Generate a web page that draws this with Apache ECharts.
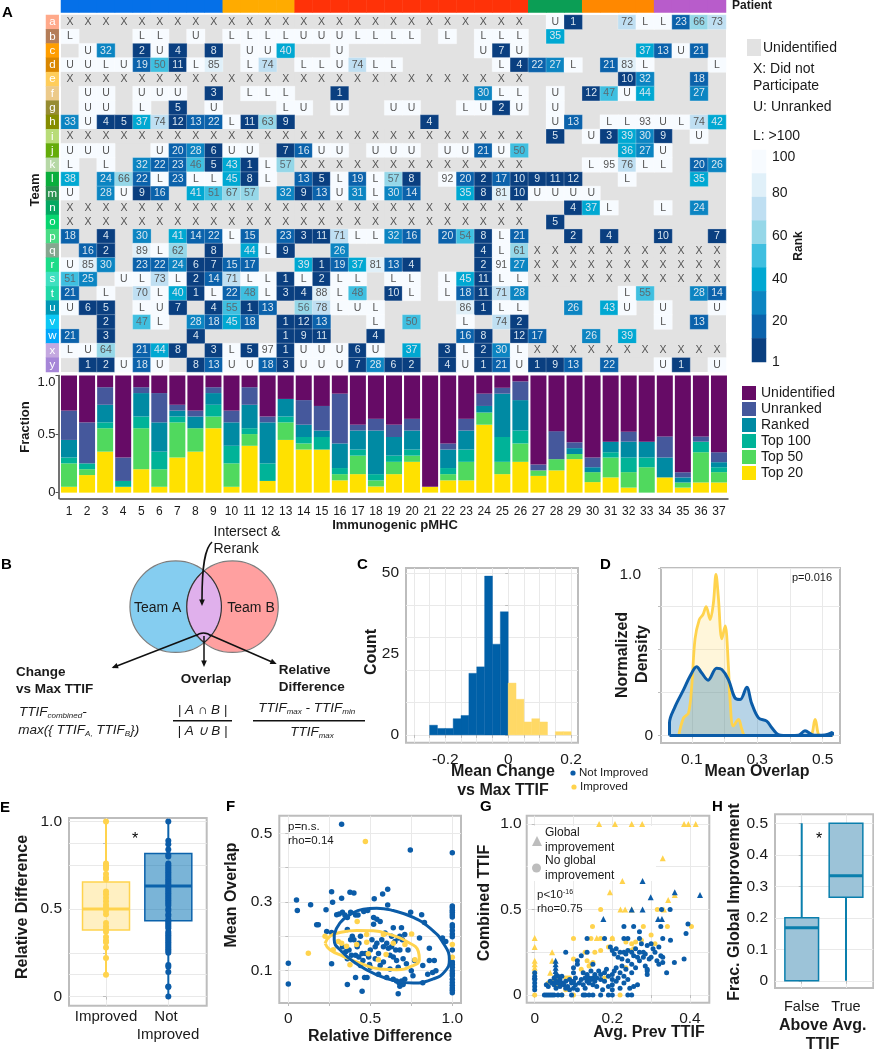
<!DOCTYPE html>
<html><head><meta charset="utf-8">
<style>html,body{margin:0;padding:0;background:#fff}#c{width:874px;height:1050px}</style>
<script src="https://cdn.jsdelivr.net/npm/echarts@6/dist/echarts.min.js"></script>
</head><body><div id="c"></div>
<script>
const FONT='"Liberation Sans",Arial,sans-serif';
const BLUE='#0b5ca8', YEL='#ffd34d';
/* ---------- Panel A data ---------- */
const pmhc=[];for(let i=1;i<=37;i++)pmhc.push(String(i));
const teamLetters='abcdefghijklmnopqrstuvwxy'.split('');
const teamColors=['#ffa98a','#b47d58','#ff9e00','#d98600','#ffcd5a','#ecca8a','#968c32','#858d00','#b8dc78','#64ac0a','#b6d8a6','#0aae3c','#2a9150','#03a862','#08d570','#48dc84','#85a78f','#1bdc88','#3fe0c0','#20d8a8','#0097b5','#0dc8f5','#02a7fb','#c4a8e0','#a686d8'];
const patientGroups=[9,4,13,3,4,4];
const patientColors=['#0570e8','#ffab00','#ff3208','#0b9e55','#ff8800','#b85ccb'];
const heatRows=[
"X X X X X X X X X X X X X X X X X X X X X X X X X X . U 1 . . 72 L L 23 66 73",
"L . . . L L . U . L L L L U U U L L L L . L . L L L . 35 . . . . . . . . .",
". U 32 . 2 U 4 . 8 . U U 40 . . U . . . . . . . U 7 U . . . . . . 37 13 U 21 .",
"U U L U 19 50 11 L 85 . L 74 . L L U 74 L L . . . . . L 4 22 27 L . 21 83 L . . . L",
"X X X X X X X X X X X X X X X X X X X X X X X X X X . . . . . 10 32 . . 18 .",
". U U . U U U . 3 . L L L . . 1 . . . . . . . 30 L L . U . 12 47 U 44 . . 27 .",
". U U . L . 5 . U . . . L U . U . . U U . . L U 2 U . U . . . . . . . . .",
"33 U 4 5 37 74 12 13 22 L 11 63 9 . . . . . . . 4 . . . . . . U 13 . L L 93 U L 74 42",
"X X X X X X X X X X X X X X X X X X X X X X X X X X . 5 . U 3 39 30 9 . U .",
"U U U . . U 20 28 6 U U . 7 16 U U . U U U . U U 21 U 50 . . . . . 36 27 U . . .",
"L . L . 32 22 23 46 5 43 1 L 57 X X X X X X X X X X X X X . . . L 95 76 L L . 20 26",
"38 . 24 66 22 L 23 L L 45 8 L . 13 5 L 19 L 57 8 . 92 20 2 17 10 9 11 12 . . L . . . 35 .",
"U . 28 U 9 16 . 41 51 67 57 . 32 9 13 U 31 L 30 14 . . 35 8 81 10 U U U U . . . . . . .",
"X X X X X X X X X X X X X X X X X X X X X X X X X X . . 4 37 L . . L . 24 .",
"X X X X X X X X X X X X X X X X X X X X X X X X X X . 5 . . . . . . . . .",
"18 . 4 . 30 . 41 14 22 L 15 . 23 3 11 71 L L 32 16 . 20 54 8 L 21 . . 2 . 4 . . 10 . . 7",
". 16 2 . 89 L 62 . 8 . 44 L 9 . . 26 . . . . . . . 4 L 61 X X X X X X X X X X X",
"U 85 30 . 23 22 24 6 7 15 17 . . 39 1 19 37 81 13 4 . . . 2 91 27 X X X X X X X X X X X",
"51 25 . U L 73 L 2 14 71 L L 1 L 2 L L . L L . L 45 11 L L X X X X X X X X X X X",
"21 . L . 70 L 40 1 L 22 48 L 3 4 88 L 48 . 10 L . L 18 11 71 28 . . . . . L 55 . . 28 14",
"U 6 5 . L U 7 . 4 55 1 13 . 56 78 L U L . . . . 86 1 L L . . 26 . 43 U . U . . U",
". . 2 . 47 L . 28 18 45 18 . 1 12 13 . . L . 50 . . L . 74 2 . . . . . . . L . 13 .",
"21 . 3 . . . . 4 . . . . 1 9 11 . . 4 . . . . 16 8 . 12 17 . . 26 . 39 . . . . .",
"L U 64 . 21 44 8 . 3 L 5 97 1 U U U 6 U . 37 . 3 L 2 30 L X X X X X X X X X X X",
". 1 2 U 18 U . 8 13 U U 18 3 U U U 7 28 6 2 . 4 U 1 21 U 1 9 13 . 22 . . U 1 . U"
];
const rankEdges=[12,23,33,45,55,67,78,89,100];
const rankColors=['#0a3f80','#0b62ab','#0c85c2','#00a8d2','#3fbfe0','#95d7e8','#bfdff2','#e0f0f9','#f7fbff'];
/* cumulative fraction boundaries for the stacked bars */
const cumTop20=[.05,.15,.35,.05,.2,.05,.3,.35,.55,.05,.4,.1,.45,.368,.368,.105,.158,.053,.158,.263,.05,.105,.105,.58,.158,.263,.143,.19,.286,.09,.13,.043,0,.13,.043,.087,.087];
const cumTop50=[.25,.2,.55,.05,.55,.2,.6,.55,.65,.25,.5,.1,.6,.42,.368,.158,.316,.105,.263,.316,.05,.158,.263,.684,.263,.42,.19,.286,.33,.175,.3,.175,.217,.13,.087,.345,.175];
const cumTop100=[.3,.25,.6,.1,.65,.35,.65,.55,.75,.4,.55,.25,.65,.475,.475,.21,.368,.158,.316,.368,.05,.21,.368,.684,.475,.53,.19,.286,.33,.175,.345,.3,.3,.13,.087,.435,.217];
const cumRanked=[.45,.25,.75,.1,.85,.6,.7,.65,.85,.6,.75,.6,.8,.58,.53,.42,.53,.53,.475,.53,.05,.368,.53,.74,.845,.79,.19,.286,.38,.217,.435,.435,.435,.3,.13,.435,.26];
const cumUnranked=[.7,.6,.9,.3,.9,.85,.75,.7,.9,.7,.9,.65,.8,.79,.74,.845,.58,.63,.58,.63,.05,.42,.63,.845,.895,.95,.24,.525,.43,.3,.435,.52,.435,.48,.174,.48,.345];
const stackNames=['Unidentified','Unranked','Ranked','Top 100','Top 50','Top 20'];
const stackColors=['#660b66','#45589c','#008aa3','#00b398','#50d95e','#ffe100'];
/* ---------- Panel C ---------- */
const histStartsBlue=[-.25,-.225,-.2,-.175,-.15,-.125,-.1,-.075,-.05,-.025];
const histCountsBlue=[3,2,2,5,6,19,21,49,28,38];
const histStartsYel=[0,.025,.05,.075,.1,.125,.15,.175];
const histCountsYel=[16,11,4,5,4,0,1,1];
/* ---------- Panel D ---------- */
const densYellow=[[.06,0],[.075,.11],[.09,.14],[.1,.31],[.11,.6],[.123,.72],[.134,.75],[.144,.8],[.156,.72],[.166,.82],[.174,1],[.181,.865],[.192,.6],[.202,.68],[.212,.43],[.217,.22],[.227,.06],[.243,.1],[.253,.04],[.263,0],[.3,0],[.4,0],[.461,0],[.477,.1],[.492,0],[.53,0]];
const densBlue=[[.032,0],[.032,.08],[.049,.18],[.075,.285],[.095,.37],[.115,.427],[.13,.39],[.15,.344],[.176,.418],[.192,.41],[.212,.348],[.232,.234],[.248,.224],[.268,.3],[.283,.2],[.304,.11],[.329,.09],[.344,.05],[.365,.006],[.4,0],[.426,.002],[.446,.03],[.467,.006],[.482,.002],[.507,.004],[.53,.02],[.53,0]];
const densBase=[[.032,0],[.53,0]];
/* ---------- Panel E ---------- */
const boxE=[[0,.12,.38,.5,.655,1],[1,0,.433,.632,.817,1]];
const improvedRD=[1,.76,.75,.74,.73,.7,.68,.67,.6,.585,.565,.545,.525,.51,.49,.47,.42,.4,.385,.37,.34,.32,.31,.28,.22,.125];
const notImprovedRD=[1,.89,.87,.84,.81,.8,.76,.75,.74,.73,.72,.71,.7,.69,.68,.67,.66,.65,.64,.63,.62,.61,.6,.59,.58,.57,.56,.55,.54,.53,.52,.5,.49,.47,.46,.44,.43,.42,.41,.4,.39,.37,.36,.35,.34,.33,.32,.31,.3,.29,.28,.27,.26,.25,.18,.17,.14,.057,.055,0];
/* ---------- Panel F ---------- */
const ovBlue=[[.325,.526],[.744,.451],[1,.443],[.264,.33],[.325,.311],[.376,.328],[.4,.326],[.524,.309],[.575,.323],[.606,.337],[.05,.306],[.055,.275],[.136,.292],[.23,.277],[.27,.299],[.606,.291],[.484,.275],[.746,.27],[.813,.263],[0,.122],[0,.061],[.173,.234],[.183,.234],[.234,.214],[.264,.211],[.264,.12],
[.295,.263],[.31,.265],[.33,.27],[.345,.262],[.36,.255],[.38,.27],[.41,.262],[.425,.262],[.46,.272],[.52,.255],[.54,.25],[.56,.243],[.36,.22],[.39,.2],[.4,.19],[.42,.17],[.43,.18],[.44,.2],[.36,.135],[.37,.16],[.385,.145],[.41,.145],[.43,.14],[.45,.15],[.455,.13],[.47,.15],[.49,.14],[.495,.118],[.5,.16],[.51,.19],[.52,.235],[.53,.17],[.53,.135],[.54,.18],[.55,.15],[.56,.115],[.57,.19],[.58,.17],[.59,.21],[.6,.18],[.61,.165],[.62,.145],[.63,.2],[.63,.17],[.64,.225],[.65,.185],[.655,.16],[.66,.13],[.67,.195],[.67,.11],[.68,.16],[.69,.225],[.695,.19],[.7,.135],[.71,.205],[.72,.12],[.73,.16],[.75,.1],[.77,.13],[.8,.195],[.83,.24],[.86,.165],[.82,.115],[.85,.09],[.86,.13],[.88,.095],[.89,.13],[.9,.1],[.94,.195],[.96,.185],
[.41,.08],[.465,.08],[.48,.08],[.45,.04],[.36,.06],[.55,.09],[.6,.08],[.64,.075],[.66,.07],[.675,.065],[.69,.07],[.68,.055],[.67,.033],[.7,.06],[.71,.075],[.76,.085],[.82,.065],[.62,.105],[.58,.125],[.5,.11],[.44,.115],[.35,.155],[.33,.17],[.38,.19],[.64,.14],[.68,.2],
[1,.288],[1,.283],[1,.276],[1,.27],[1,.263],[1,.256],[1,.234],[1,.227],[1,.217],[1,.207],[1,.199],[1,.16],[1,.125],[1,.118],[1,.11],[1,.1],[1,.092],[1,.085],[1,.075],[1,.066],[1,.058],[1,.05],[1,.043],[1,.036]];
const ovYellow=[[.47,.476],[.122,.151],[.224,.2],[.42,.243],[.752,.207],[.478,.183],[.596,.147],[1,.176],[1,.139],[.325,.18],[.355,.171],[.417,.176],[.478,.205],[.488,.149],[.58,.205],[.64,.18],[.711,.176],[.772,.132],[.376,.117],[.549,.132],[.274,.161],[.305,.185]];
const ellBlue=[[.28,.205],[.315,.239],[.376,.263],[.457,.279],[.539,.282],[.64,.275],[.762,.255],[.864,.224],[.945,.18],[.982,.132],[.955,.098],[.884,.076],[.762,.064],[.661,.069],[.539,.088],[.417,.12],[.325,.156],[.28,.19],[.28,.205]];
const ellYellow=[[.224,.18],[.254,.2],[.315,.211],[.417,.217],[.518,.216],[.62,.205],[.722,.185],[.793,.156],[.799,.132],[.752,.113],[.661,.103],[.559,.105],[.437,.122],[.335,.142],[.254,.161],[.224,.18]];
/* ---------- Panel G ---------- */
const gBlueCirc=[[0,.03],[0,.05],[0,.07],[0,.09],[0,.11],[0,.13],[.025,0],[.03,0],[.035,0],[.04,0],[.045,0],[.05,0],[.06,0],[.07,0],[.095,0],[.125,0],[.13,0],[.14,0],[.15,0],[.17,0],[.19,0],[.2,0],[.24,0],[.25,0],
[.03,.06],[.035,.05],[.04,.08],[.045,.07],[.05,.1],[.05,.06],[.055,.04],[.055,.08],[.06,.07],[.06,.11],[.065,.05],[.065,.09],[.07,.07],[.07,.11],[.075,.06],[.08,.04],[.08,.08],[.085,.05],[.09,.03],[.09,.09],[.095,.07],[.1,.04],[.1,.08],[.1,.13],[.105,.1],[.105,.06],[.11,.03],[.115,.07],[.12,.09],[.125,.13],[.125,.06],[.13,.1],[.13,.04],[.135,.08],[.135,.12],[.14,.07],[.14,.1],[.145,.09],[.145,.14],[.15,.06],[.15,.1],[.155,.08],[.155,.12],[.16,.1],[.16,.05],[.165,.14],[.17,.09],[.17,.12],[.175,.03],[.18,.13],[.18,.08],[.185,.15],[.19,.11],[.19,.05],[.2,.03],[.2,.06],[.2,.09],[.2,.12],[.205,.14],[.21,.08],[.21,.16],[.215,.1],[.22,.04],[.22,.13],[.225,.17],[.23,.07],[.23,.11],[.235,.15],[.24,.09],[.24,.2],[.245,.04],[.25,.13],[.25,.18],[.255,.05],[.26,.16],[.265,.06],[.27,.2],[.28,.22],[.285,.17],
[.195,.28],[.2,.26],[.205,.24],[.21,.27],[.215,.22],[.22,.25],[.225,.21],[.23,.25],[.235,.24],[.24,.26],[.25,.25],[.255,.23],[.26,.27],[.265,.22],[.27,.25],[.275,.3],[.28,.25],[.285,.24],[.29,.29],[.295,.21],[.3,.22],[.305,.27],[.31,.25],[.315,.2],[.32,.28],[.325,.23],[.33,.22],[.35,.32],[.29,.15],[.29,.12],[.29,.14],[.32,.18],[.33,.19],[.34,.13],[.36,.19],[.385,.21],
[.135,.33],[.18,.33],[.23,.33],[.24,.33],[.27,.33],[.27,.37],[.23,.4],[.255,.4],[.39,.36],[.395,.415],[.33,.33],[.3,.3],[.135,.25],[.08,.25],[.11,.2],[.12,.23],[.15,.18],[.11,.18],[.1,.16],[.327,.5],[.349,.5],[.325,.4]];
const gYelCirc=[[.13,.25],[.155,.25],[.08,.1],[.09,.1],[.085,.1],[.06,.06],[.05,.09],[.1,0],[.07,0],[0,0],[.22,0],[.1,.21],[.12,.15],[.135,.2],[.14,.17],[.145,.18],[.15,.19],[.17,.26],[.18,.1],[.19,.28],[.2,.33],[.235,.31],[.245,.26],[.25,.3],[.255,.27],[.26,.31],[.275,.32],[.3,.35],[.31,.3],[.235,.16],[.08,.03],[.17,.33],[.1,.33],[.145,.33],[.17,.5],[.316,.5],[.149,.4],[.28,.4],[.342,.4],[.404,.4],[.06,.09],[.035,.07]];
const gYelTri=[[.166,1],[.207,1],[.25,1],[.277,1],[.385,1],[.396,1],[.415,1],[.33,.8],[.226,.667],[.194,.6],[.361,.585],[.344,.556],[.221,.5],[.233,.5],[.25,.5],[.333,.5],[.16,.333],[.2,.333],[0,.333],[0,.28],[0,.2],[0,.18],[0,.16],[0,.14],[.045,.25],[.045,.2],[.04,.13]];
const gBlueTri=[[.278,.667],[.361,.6],[.426,.585],[.299,.571],[.25,.5],[.278,.5],[.177,.444],[.318,.444],[.328,.444],[.054,.09],[.054,.12],[.054,.14],[.054,.16],[.054,.18],[.054,.2],[0,.11]];
/* ---------- Panel H ---------- */
const boxH=[[0,0,0,.168,.2,.5],[1,0,.265,.333,.5,.5]];

/* ---------- helpers ---------- */
const grids=[],xAxes=[],yAxes=[],series=[],g=[];
function T(x,y,text,o){o=o||{};
  const st={x:0,y:0,text:text,fontFamily:FONT,fontSize:o.size||14,fontWeight:o.bold?'bold':'normal',fontStyle:o.italic?'italic':'normal',fill:o.color||'#1a1a1a',align:o.align||'left',verticalAlign:'middle'};
  if(o.rich)st.rich=o.rich;
  g.push({type:'text',x:x,y:y,rotation:o.rot?Math.PI/2:0,z:100,style:st});}
function L(pts,w){g.push({type:'polyline',z:100,shape:{points:pts},style:{stroke:'#111',lineWidth:w||1.5,fill:null}});}
function head(tip,angle){const s=7,a=.42;g.push({type:'polygon',z:100,shape:{points:[tip,[tip[0]-s*Math.cos(angle-a),tip[1]-s*Math.sin(angle-a)],[tip[0]-s*Math.cos(angle+a),tip[1]-s*Math.sin(angle+a)]]},style:{fill:'#111'}});}
function bez(a,c1,c2,b,w){g.push({type:'bezierCurve',z:100,shape:{x1:a[0],y1:a[1],cpx1:c1[0],cpy1:c1[1],cpx2:c2[0],cpy2:c2[1],x2:b[0],y2:b[1]},style:{fill:null,stroke:'#111',lineWidth:w||1.5}});}
function bareGrid(l,t,r,b,extra){const i=grids.length;grids.push(Object.assign({left:l,top:t,width:r-l,height:b-t,show:false},extra||{}));return i;}
function hiddenCat(i,data,inv){return {type:'category',gridIndex:i,data:data,inverse:!!inv,show:false,axisLine:{show:false},axisTick:{show:false},splitLine:{show:false},axisLabel:{show:false}};}
function valAxis(i,a){return {type:'value',gridIndex:i,min:a.min,max:a.max,axisLine:{show:false},
  axisTick:{show:true,customValues:a.ticks,length:3,lineStyle:{color:'#bdbdbd'}},
  axisLabel:{show:a.labels!==null,customValues:a.labels||undefined,formatter:a.fmt,fontSize:a.size||15.5,color:'#1a1a1a',margin:a.margin||6,fontFamily:FONT,lineHeight:18,hideOverlap:false},
  splitLine:{show:true,lineStyle:{color:'#e9e9e9',width:1}}};}
function panel(box,xa,ya){const i=grids.length;grids.push({left:box[0],top:box[1],width:box[2]-box[0],height:box[3]-box[1],show:true,backgroundColor:'#fff',borderColor:'#bdbdbd',borderWidth:2});xAxes.push(valAxis(i,xa));yAxes.push(valAxis(i,ya));return i;}
const f1=v=>v===0?'0':v.toFixed(1);
function boxSeries(i,data,half,colors,fills,lw){
  series.push({type:'custom',xAxisIndex:i,yAxisIndex:i,data:data,silent:true,clip:false,encode:{x:0,y:[1,2,3,4,5]},
   renderItem:function(p,api){const x=api.value(0),lo=api.value(1),q1=api.value(2),m=api.value(3),q3=api.value(4),hi=api.value(5);
    const c=colors[p.dataIndex],A=api.coord([x-half,q3]),B=api.coord([x+half,q1]),ml=api.coord([x-half,m]),mr=api.coord([x+half,m]),h0=api.coord([x,hi]),h1=api.coord([x,q3]),l0=api.coord([x,lo]),l1=api.coord([x,q1]);
    return {type:'group',children:[
     {type:'rect',shape:{x:A[0],y:A[1],width:B[0]-A[0],height:B[1]-A[1]},style:{fill:fills[p.dataIndex],stroke:c,lineWidth:1.5}},
     {type:'line',shape:{x1:h0[0],y1:h0[1],x2:h1[0],y2:h1[1]},style:{stroke:c,lineWidth:lw}},
     {type:'line',shape:{x1:l0[0],y1:l0[1],x2:l1[0],y2:l1[1]},style:{stroke:c,lineWidth:lw}},
     {type:'line',shape:{x1:ml[0],y1:ml[1],x2:mr[0],y2:mr[1]},style:{stroke:c,lineWidth:3}}]};}});
}
function hist(i,starts,counts,color){series.push({type:'custom',xAxisIndex:i,yAxisIndex:i,silent:true,encode:{x:[0,1],y:2},
  data:starts.map((s,k)=>[s,s+.025,counts[k]]).filter(d=>d[2]>0),
  renderItem:function(p,api){const a=api.coord([api.value(0),api.value(2)]),b=api.coord([api.value(1),0]);
    return {type:'rect',shape:{x:a[0],y:a[1],width:b[0]-a[0],height:b[1]-a[1]},style:{fill:color,stroke:color,lineWidth:.4}};}});}

/* ---------- Panel A: heatmap ---------- */
const hi=bareGrid(61,15,726,372,{show:true,backgroundColor:'#e2e2e2',borderWidth:0});
xAxes.push(hiddenCat(hi,pmhc));yAxes.push(hiddenCat(hi,teamLetters,true));
const heatData=[];
heatRows.forEach((row,r)=>row.split(' ').forEach((tok,c)=>{ if(tok==='.')return;
  let fill='#f7fbff',txt='#555',bw=.6,code=101;
  if(tok==='X'){fill='#e2e2e2';bw=0;code=0;}
  else if(tok!=='U'&&tok!=='L'){const n=+tok;code=n;fill=rankColors[rankEdges.findIndex(e=>n<=e)];txt=n<46?'#d9e6f0':'#5a6a72';if(n>=60)txt='#555';}
  heatData.push({value:[c,r,code],itemStyle:{color:fill,borderColor:bw?'rgba(255,255,255,.45)':fill,borderWidth:bw},label:{show:true,formatter:tok,color:txt,fontSize:10.5,fontFamily:FONT}});
}));
series.push({type:'heatmap',xAxisIndex:hi,yAxisIndex:hi,data:heatData,silent:true,encode:{x:0,y:1}});
/* patient bar */
const pi=bareGrid(61,0,726,12.5);
xAxes.push(hiddenCat(pi,pmhc));yAxes.push(hiddenCat(pi,['Patient']));
const patData=[];let pc=0;patientGroups.forEach((n,k)=>{for(let j=0;j<n;j++){patData.push({value:[pc,0,k],itemStyle:{color:patientColors[k]}});pc++;}});
series.push({type:'heatmap',xAxisIndex:pi,yAxisIndex:pi,data:patData,silent:true,encode:{x:0,y:1}});
/* team strip */
const ti=bareGrid(46,15,58.7,372);
xAxes.push(hiddenCat(ti,['Team']));yAxes.push(hiddenCat(ti,teamLetters,true));
series.push({type:'heatmap',xAxisIndex:ti,yAxisIndex:ti,silent:true,encode:{x:0,y:1},
  data:teamLetters.map((t,k)=>({value:[0,k,k],itemStyle:{color:teamColors[k]},label:{show:true,formatter:t,color:'#fff',fontSize:11.5,fontFamily:FONT}}))});
/* colour bar */
const ci=bareGrid(752,150,766,362);
const rankBins=rankEdges.slice().reverse();
xAxes.push(hiddenCat(ci,['Rank']));yAxes.push(hiddenCat(ci,rankBins.map(String),true));
series.push({type:'heatmap',xAxisIndex:ci,yAxisIndex:ci,silent:true,encode:{x:0,y:1},
  data:rankBins.map((e,k)=>({value:[0,k,e],itemStyle:{color:rankColors[8-k]}}))});
/* stacked bars */
const si=grids.length;grids.push({left:60,top:375.5,width:668,height:123,show:false});
xAxes.push({type:'category',gridIndex:si,data:pmhc,axisLine:{onZero:false,lineStyle:{color:'#444',width:1.5}},axisTick:{alignWithLabel:true,length:3,lineStyle:{color:'#555'}},axisLabel:{interval:0,fontSize:12,color:'#1a1a1a',margin:7,fontFamily:FONT},splitLine:{show:false}});
yAxes.push({type:'value',gridIndex:si,min:-.05,max:1,offset:1.5,axisLine:{show:true,lineStyle:{color:'#444',width:1.5}},axisTick:{show:true,customValues:[0,.5,1],length:3,lineStyle:{color:'#555'}},axisLabel:{customValues:[0,.5,1],formatter:f1,fontSize:13,color:'#1a1a1a',margin:3,fontFamily:FONT,verticalAlignMaxLabel:'top'},splitLine:{show:false}});
const cum=[cumTop20,cumTop50,cumTop100,cumRanked,cumUnranked,cumTop20.map(()=>1)];
for(let s=0;s<6;s++){const name=stackNames[5-s];
  series.push({type:'bar',name:name,stack:'A',xAxisIndex:si,yAxisIndex:si,barWidth:16,silent:true,itemStyle:{color:stackColors[5-s]},
    data:cum[s].map((v,k)=>+(v-(s?cum[s-1][k]:0)).toFixed(3))});}
/* ---------- Panel C ---------- */
const ic=panel([406,568,578,742.7],
 {min:-.325,max:.222,ticks:[-.3,-.25,-.2,-.15,-.1,-.05,0,.05,.1,.15,.2],labels:[-.2,0,.2],fmt:v=>v===0?'0':v.toFixed(1),margin:8},
 {min:-2.4,max:51.5,ticks:[0,10,20,30,40,50],labels:[0,25,50],fmt:v=>String(v),margin:7});
hist(ic,histStartsBlue,histCountsBlue,'#0060a8');hist(ic,histStartsYel,histCountsYel,'#ffd966');
/* ---------- Panel D ---------- */
const id=panel([661,568,840,743],
 {min:.006,max:.553,ticks:[.1,.2,.3,.4,.5],labels:[.1,.3,.5],fmt:v=>v.toFixed(1),margin:8},
 {min:-.046,max:1.04,ticks:[0,.27,.535,.8,1.04],labels:[0,1],fmt:v=>v===1?'{a|1.0}':'0',margin:8});
yAxes[id].axisLabel.rich={a:{fontSize:15.5,color:'#1a1a1a',fontFamily:FONT,padding:[0,12,0,0]}};
function dens(data,line,fill,w){series.push({type:'line',xAxisIndex:id,yAxisIndex:id,data:data,smooth:.35,showSymbol:false,silent:true,lineStyle:{color:line,width:w},areaStyle:{color:fill}});}
dens(densYellow,YEL,'rgba(255,217,102,.35)',2.8);
dens(densBlue,BLUE,'rgba(10,110,175,.42)',3);
series.push({type:'line',xAxisIndex:id,yAxisIndex:id,data:densBase,showSymbol:false,silent:true,lineStyle:{color:BLUE,width:3}});
/* ---------- Panel E ---------- */
const ie=panel([69,818,206.7,1005.7],
 {min:-.594,max:1.616,ticks:[0,1],labels:null,fmt:String,margin:8},
 {min:-.052,max:1.02,ticks:[0,.125,.25,.5,.75,.875,1],labels:[0,.5,1],fmt:f1,margin:7});
boxSeries(ie,boxE,.377,[YEL,'#0b62ab'],['rgba(255,217,102,.4)','rgba(0,112,178,.52)'],2);
series.push({type:'scatter',xAxisIndex:ie,yAxisIndex:ie,symbolSize:6,silent:true,itemStyle:{color:YEL,opacity:1},data:improvedRD.map(v=>[0,v])});
series.push({type:'scatter',xAxisIndex:ie,yAxisIndex:ie,symbolSize:6,silent:true,itemStyle:{color:BLUE,opacity:1},data:notImprovedRD.map(v=>[1,v])});
/* ---------- Panel F ---------- */
const iF=panel([279.3,815.7,461,1003],
 {min:-.055,max:1.053,ticks:[0,.25,.5,.75,1],labels:[0,.5,1],fmt:f1,margin:7},
 {min:.006,max:.551,ticks:[.1,.2,.3,.4,.5],labels:[.1,.3,.5],fmt:f1,margin:7});
series.push({type:'scatter',xAxisIndex:iF,yAxisIndex:iF,symbolSize:5.5,silent:true,itemStyle:{color:BLUE,opacity:1},data:ovBlue});
series.push({type:'scatter',xAxisIndex:iF,yAxisIndex:iF,symbolSize:5.5,silent:true,itemStyle:{color:YEL,opacity:1},data:ovYellow});
series.push({type:'line',xAxisIndex:iF,yAxisIndex:iF,smooth:.5,showSymbol:false,silent:true,data:ellYellow,lineStyle:{color:YEL,width:3}});
series.push({type:'line',xAxisIndex:iF,yAxisIndex:iF,smooth:.5,showSymbol:false,silent:true,data:ellBlue,lineStyle:{color:BLUE,width:3}});
/* ---------- Panel G ---------- */
const iG=panel([526.7,815.7,709.3,1002.7],
 {min:-.0206,max:.45,ticks:[0,.1,.2,.3,.4],labels:[0,.2,.4],fmt:f1,margin:7},
 {min:-.045,max:1.048,ticks:[0,.25,.5,.75,1],labels:[0,.5,1],fmt:f1,margin:5});
g.push({type:'rect',z:1,shape:{x:528,y:826,width:128,height:55},style:{fill:'#fff'}});
series.push({type:'scatter',xAxisIndex:iG,yAxisIndex:iG,symbolSize:5,silent:true,z:3,itemStyle:{color:YEL,opacity:1},data:gYelCirc});
series.push({type:'scatter',xAxisIndex:iG,yAxisIndex:iG,symbol:'triangle',symbolSize:6,silent:true,z:3,itemStyle:{color:YEL,opacity:1},data:gYelTri});
series.push({type:'scatter',xAxisIndex:iG,yAxisIndex:iG,symbolSize:5,silent:true,z:4,itemStyle:{color:BLUE,opacity:1},data:gBlueCirc});
series.push({type:'scatter',xAxisIndex:iG,yAxisIndex:iG,symbol:'triangle',symbolSize:6,silent:true,z:4,itemStyle:{color:BLUE,opacity:1},data:gBlueTri});
/* ---------- Panel H ---------- */
const iH=panel([775,814.3,873.3,988],
 {min:-.603,max:1.616,ticks:[0,1],labels:[0,1],fmt:v=>v===0?'False':'True',size:14.5,margin:10},
 {min:-.023,max:.5285,ticks:[0,.1,.2,.3,.4,.5],labels:[0,.1,.2,.3,.4,.5],fmt:f1,margin:7});
boxSeries(iH,boxH,.38,['#0a7fad','#0a7fad'],['#9cc3d8','#9cc3d8'],2);

/* ---------- Text and diagram ---------- */
[['A',2,13],['B',1,565],['C',357,565],['D',600,565],['E',0,808],['F',226,807],['G',480,807],['H',712,807]].forEach(a=>T(a[1],a[2],a[0],{size:15,bold:true,color:'#000'}));
T(732,6,'Patient',{size:12,bold:true});
T(35,190,'Team',{size:13,bold:true,align:'center',rot:true});
T(25,427,'Fraction',{size:13,bold:true,align:'center',rot:true});
T(395,525,'Immunogenic pMHC',{size:13,bold:true,align:'center'});
/* heat legend */
g.push({type:'rect',shape:{x:747,y:39,width:14,height:17},style:{fill:'#e2e2e2'}});
T(763,48,'Unidentified',{size:14});T(753,69,'X: Did not',{size:14});T(753,86,'Participate',{size:14});T(753,107,'U: Unranked',{size:14});T(753,136,'L: >100',{size:14});
[['100',157],['80',193],['60',236],['40',279],['20',321],['1',362]].forEach(a=>T(772,a[1],a[0],{size:14}));
T(799,246,'Rank',{size:12,bold:true,align:'center',rot:true});
/* B: venn */
g.push({type:'circle',z:10,shape:{cx:175.7,cy:606.7,r:45.75},style:{fill:'#85cdf0',stroke:'#7d7d7d',lineWidth:1.2}});
g.push({type:'circle',z:10,shape:{cx:232.5,cy:606.7,r:45.75},style:{fill:'#ffa0a0',stroke:'#7d7d7d',lineWidth:1.2}});
const lens=[];
for(let a=-.9;a<=.9001;a+=.1)lens.push([175.7+45.75*Math.cos(a),606.7+45.75*Math.sin(a)]);
for(let a=Math.PI-.9;a<=Math.PI+.9001;a+=.1)lens.push([232.5+45.75*Math.cos(a),606.7+45.75*Math.sin(a)]);
g.push({type:'polygon',z:11,shape:{points:lens},style:{fill:'#e0b0ec',stroke:'#333',lineWidth:1.2}});
T(157.7,607.7,'Team A',{size:14,align:'center'});T(251,607.7,'Team B',{size:14,align:'center'});
T(213.5,532.5,'Intersect &',{size:14});T(213.5,549,'Rerank',{size:14});
bez([212,542],[205,548],[202,565],[202,600],1.6);
head([202,606],Math.PI/2);
L([[196.7,635],[113,667.5]]);head([111.7,668],2.77);
L([[204,636],[204,662]]);head([204,667],Math.PI/2);
L([[210,635],[272,662]]);head([276.7,664],.41);
bez([196,636],[200,632],[207,632],[211,636],1.4);
T(16,672.7,'Change',{size:13.5,bold:true});T(16,689,'vs Max TTIF',{size:13.5,bold:true});
T(206,679,'Overlap',{size:13.5,bold:true,align:'center'});
T(278.7,670.7,'Relative',{size:13.5,bold:true});T(278.7,687,'Difference',{size:13.5,bold:true});
const ric={i:{fontFamily:FONT,fontStyle:'italic',fontSize:13.5,color:'#1a1a1a'},s:{fontFamily:FONT,fontStyle:'italic',fontSize:8,color:'#1a1a1a',padding:[7,0,0,0]}};
T(19,712.7,'{i|TTIF}{s|combined}{i|-}',{rich:ric,size:13.5,italic:true});
T(18.3,730,"{i|max({ TTIF}{s|A,}{i| TTIF}{s|B}})",{rich:ric,size:13.5,italic:true});
T(202.5,710,'| A ∩ B |',{size:13.5,italic:true,align:'center'});
L([[173,720.7],[232,720.7]]);
T(202.5,731,'| A ∪ B |',{size:13.5,italic:true,align:'center'});
T(306.7,708,'{i|TTIF}{s|max}{i| - TTIF}{s|min}',{rich:ric,align:'center',size:13.5,italic:true});
L([[253,720.7],[365,720.7]]);
T(312,732,'{i|TTIF}{s|max}',{rich:ric,align:'center',size:13.5,italic:true});
/* C, D */
T(372,652,'Count',{size:16,bold:true,align:'center',rot:true});
T(503,772,'Mean Change',{size:16,bold:true,align:'center'});T(503,791,'vs Max TTIF',{size:16,bold:true,align:'center'});
g.push({type:'circle',z:100,shape:{cx:573,cy:773,r:2.6},style:{fill:BLUE}});T(579,773,'Not Improved',{size:11.5});
g.push({type:'circle',z:100,shape:{cx:574,cy:787,r:2.6},style:{fill:YEL}});T(580,787,'Improved',{size:11.5});
T(832,578,'p=0.016',{size:11,align:'right'});
T(623,655,'Normalized',{size:16,bold:true,align:'center',rot:true});T(643,654,'Density',{size:16,bold:true,align:'center',rot:true});
T(757,772,'Mean Overlap',{size:16,bold:true,align:'center'});
/* E, F, G, H */
T(23,907,'Relative Difference',{size:16,bold:true,align:'center',rot:true});
T(135,840,'*',{size:16,align:'center',color:'#000'});
T(106,1017,'Improved',{size:15,align:'center'});T(166,1017,'Not',{size:15,align:'center'});T(168,1035,'Improved',{size:15,align:'center'});
T(288,827,'p=n.s.',{size:11.5});T(288,841,'rho=0.14',{size:11.5});
T(232,895,'Mean Overlap',{size:16,bold:true,align:'center',rot:true});
T(380,1037,'Relative Difference',{size:16,bold:true,align:'center'});
g.push({type:'polygon',z:100,shape:{points:[[532,846],[542,846],[537,836]]},style:{fill:'#bdbdbd'}});
g.push({type:'circle',z:100,shape:{cx:536.5,cy:868,r:4.5},style:{fill:'#bdbdbd'}});
T(545,833,'Global',{size:12});T(545,848,'improvement',{size:12});T(545,861,'No global',{size:12});T(545,876,'improvement',{size:12});
T(537,895,'p<10{u|-16}',{size:11.5,rich:{u:{fontFamily:FONT,fontSize:7,color:'#1a1a1a',padding:[0,0,6,0]}}});T(537,909,'rho=0.75',{size:11.5});
T(485,903,'Combined TTIF',{size:16,bold:true,align:'center',rot:true});
T(649,1033,'Avg. Prev TTIF',{size:16,bold:true,align:'center'});
T(735,902,'Frac. Global Improvement',{size:16,bold:true,align:'center',rot:true});
T(819,840,'*',{size:16,align:'center',color:'#000'});
T(822.7,1026,'Above Avg.',{size:16,bold:true,align:'center'});T(822.7,1045,'TTIF',{size:16,bold:true,align:'center'});

const chart=echarts.init(document.getElementById('c'),null,{renderer:'canvas'});
chart.setOption({animation:false,textStyle:{fontFamily:FONT},
  grid:grids,xAxis:xAxes,yAxis:yAxes,series:series,
  legend:{left:742,top:386,orient:'vertical',itemWidth:14,itemHeight:14,itemGap:2,padding:0,selectedMode:false,icon:'rect',data:stackNames,textStyle:{fontSize:14,color:'#1a1a1a',fontFamily:FONT}},
  graphic:{elements:g}});
</script></body></html>
